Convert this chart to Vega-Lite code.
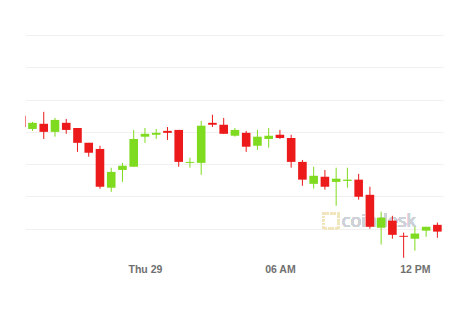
{
  "$schema": "https://vega.github.io/schema/vega-lite/v6.json",
  "width": 418,
  "height": 226,
  "autosize": {"type": "none"},
  "padding": {"left": 25, "top": 35, "right": 31, "bottom": 53},
  "background": "#ffffff",
  "config": {
    "view": {"stroke": null},
    "font": "Liberation Sans"
  },
  "data": {
    "values": [
      {"t": "2020-10-28T18:30", "open": 13350, "high": 13350, "low": 13315, "close": 13315},
      {"t": "2020-10-28T19:00", "open": 13309, "high": 13331, "low": 13303, "close": 13328},
      {"t": "2020-10-28T19:30", "open": 13325, "high": 13362, "low": 13278, "close": 13300},
      {"t": "2020-10-28T20:00", "open": 13300, "high": 13343, "low": 13285, "close": 13337},
      {"t": "2020-10-28T20:30", "open": 13328, "high": 13340, "low": 13294, "close": 13306},
      {"t": "2020-10-28T21:00", "open": 13312, "high": 13312, "low": 13238, "close": 13266},
      {"t": "2020-10-28T21:30", "open": 13266, "high": 13266, "low": 13223, "close": 13235},
      {"t": "2020-10-28T22:00", "open": 13247, "high": 13257, "low": 13124, "close": 13130},
      {"t": "2020-10-28T22:30", "open": 13127, "high": 13189, "low": 13114, "close": 13176},
      {"t": "2020-10-28T23:00", "open": 13182, "high": 13204, "low": 13145, "close": 13195},
      {"t": "2020-10-28T23:30", "open": 13192, "high": 13306, "low": 13192, "close": 13278},
      {"t": "2020-10-29T00:00", "open": 13285, "high": 13312, "low": 13266, "close": 13294},
      {"t": "2020-10-29T00:30", "open": 13291, "high": 13309, "low": 13278, "close": 13297},
      {"t": "2020-10-29T01:00", "open": 13303, "high": 13315, "low": 13275, "close": 13297},
      {"t": "2020-10-29T01:30", "open": 13306, "high": 13306, "low": 13192, "close": 13207},
      {"t": "2020-10-29T02:00", "open": 13204, "high": 13220, "low": 13189, "close": 13207},
      {"t": "2020-10-29T02:30", "open": 13204, "high": 13334, "low": 13167, "close": 13319},
      {"t": "2020-10-29T03:00", "open": 13328, "high": 13353, "low": 13315, "close": 13322},
      {"t": "2020-10-29T03:30", "open": 13322, "high": 13343, "low": 13294, "close": 13294},
      {"t": "2020-10-29T04:00", "open": 13288, "high": 13312, "low": 13285, "close": 13306},
      {"t": "2020-10-29T04:30", "open": 13297, "high": 13303, "low": 13238, "close": 13254},
      {"t": "2020-10-29T05:00", "open": 13257, "high": 13306, "low": 13244, "close": 13285},
      {"t": "2020-10-29T05:30", "open": 13278, "high": 13312, "low": 13251, "close": 13288},
      {"t": "2020-10-29T06:00", "open": 13291, "high": 13306, "low": 13278, "close": 13281},
      {"t": "2020-10-29T06:30", "open": 13281, "high": 13291, "low": 13189, "close": 13207},
      {"t": "2020-10-29T07:00", "open": 13207, "high": 13213, "low": 13133, "close": 13152},
      {"t": "2020-10-29T07:30", "open": 13139, "high": 13192, "low": 13124, "close": 13164},
      {"t": "2020-10-29T08:00", "open": 13161, "high": 13182, "low": 13121, "close": 13130},
      {"t": "2020-10-29T08:30", "open": 13145, "high": 13189, "low": 13071, "close": 13155},
      {"t": "2020-10-29T09:00", "open": 13148, "high": 13189, "low": 13127, "close": 13152},
      {"t": "2020-10-29T09:30", "open": 13152, "high": 13170, "low": 13090, "close": 13099},
      {"t": "2020-10-29T10:00", "open": 13105, "high": 13130, "low": 13000, "close": 13006},
      {"t": "2020-10-29T10:30", "open": 13003, "high": 13053, "low": 12951, "close": 13034},
      {"t": "2020-10-29T11:00", "open": 13025, "high": 13040, "low": 12969, "close": 12981},
      {"t": "2020-10-29T11:30", "open": 12978, "high": 12988, "low": 12910, "close": 12975},
      {"t": "2020-10-29T12:00", "open": 12969, "high": 13006, "low": 12932, "close": 12985},
      {"t": "2020-10-29T12:30", "open": 12994, "high": 13006, "low": 12975, "close": 13006},
      {"t": "2020-10-29T13:00", "open": 13012, "high": 13019, "low": 12972, "close": 12991}
    ]
  },
  "encoding": {
    "x": {
      "field": "t",
      "type": "temporal",
      "title": null,
      "scale": {
        "padding": 0,
        "domain": [
          {"year": 2020, "month": 10, "date": 28, "hours": 18, "minutes": 40},
          {"year": 2020, "month": 10, "date": 29, "hours": 13, "minutes": 15}
        ]
      },
      "axis": {
        "values": [
          {"year": 2020, "month": 10, "date": 29, "hours": 0},
          {"year": 2020, "month": 10, "date": 29, "hours": 6},
          {"year": 2020, "month": 10, "date": 29, "hours": 12}
        ],
        "labelExpr": "hours(datum.value) == 0 ? timeFormat(datum.value, '%a %d') : timeFormat(datum.value, '%I %p')",
        "grid": false,
        "domain": false,
        "ticks": false,
        "tickSize": 0,
        "labelPadding": 3,
        "labelFontSize": 10.5,
        "labelFontWeight": "bold",
        "labelColor": "#707070",
        "labelFlush": false
      }
    },
    "y": {
      "type": "quantitative",
      "title": null,
      "scale": {"domain": [12900, 13600], "zero": false, "nice": false},
      "axis": {
        "values": [13000, 13100, 13200, 13300, 13400, 13500, 13600],
        "labels": false,
        "ticks": false,
        "domain": false,
        "grid": true,
        "gridColor": "#f0f0f0",
        "gridWidth": 1
      }
    },
    "color": {
      "condition": {"test": "datum.close > datum.open", "value": "#7fdb1f"},
      "value": "#ec1a1a"
    }
  },
  "layer": [
    {
      "mark": {"type": "square", "filled": false, "size": 230, "stroke": "#efe4bc", "strokeWidth": 1.5, "strokeDash": [2, 1.5], "clip": true},
      "encoding": {
        "x": {"datum": {"year": 2020, "month": 10, "date": 29, "hours": 8, "minutes": 16}, "type": "temporal"},
        "y": {"datum": 13024, "type": "quantitative"},
        "color": {"value": "#efe4bc"}
      }
    },
    {
      "mark": {"type": "text", "text": "coindesk", "fontSize": 18, "font": "Open Sans", "align": "center", "baseline": "middle", "clip": true},
      "encoding": {
        "x": {"datum": {"year": 2020, "month": 10, "date": 29, "hours": 10, "minutes": 24}, "type": "temporal"},
        "y": {"datum": 13020, "type": "quantitative"},
        "color": {"value": "#cfd2d8"}
      }
    },
    {
      "mark": {"type": "rule", "strokeWidth": 1, "clip": true},
      "encoding": {
        "y": {"field": "low"},
        "y2": {"field": "high"}
      }
    },
    {
      "mark": {"type": "bar", "size": 8.6, "clip": true},
      "encoding": {
        "y": {"field": "open"},
        "y2": {"field": "close"}
      }
    }
  ]
}
